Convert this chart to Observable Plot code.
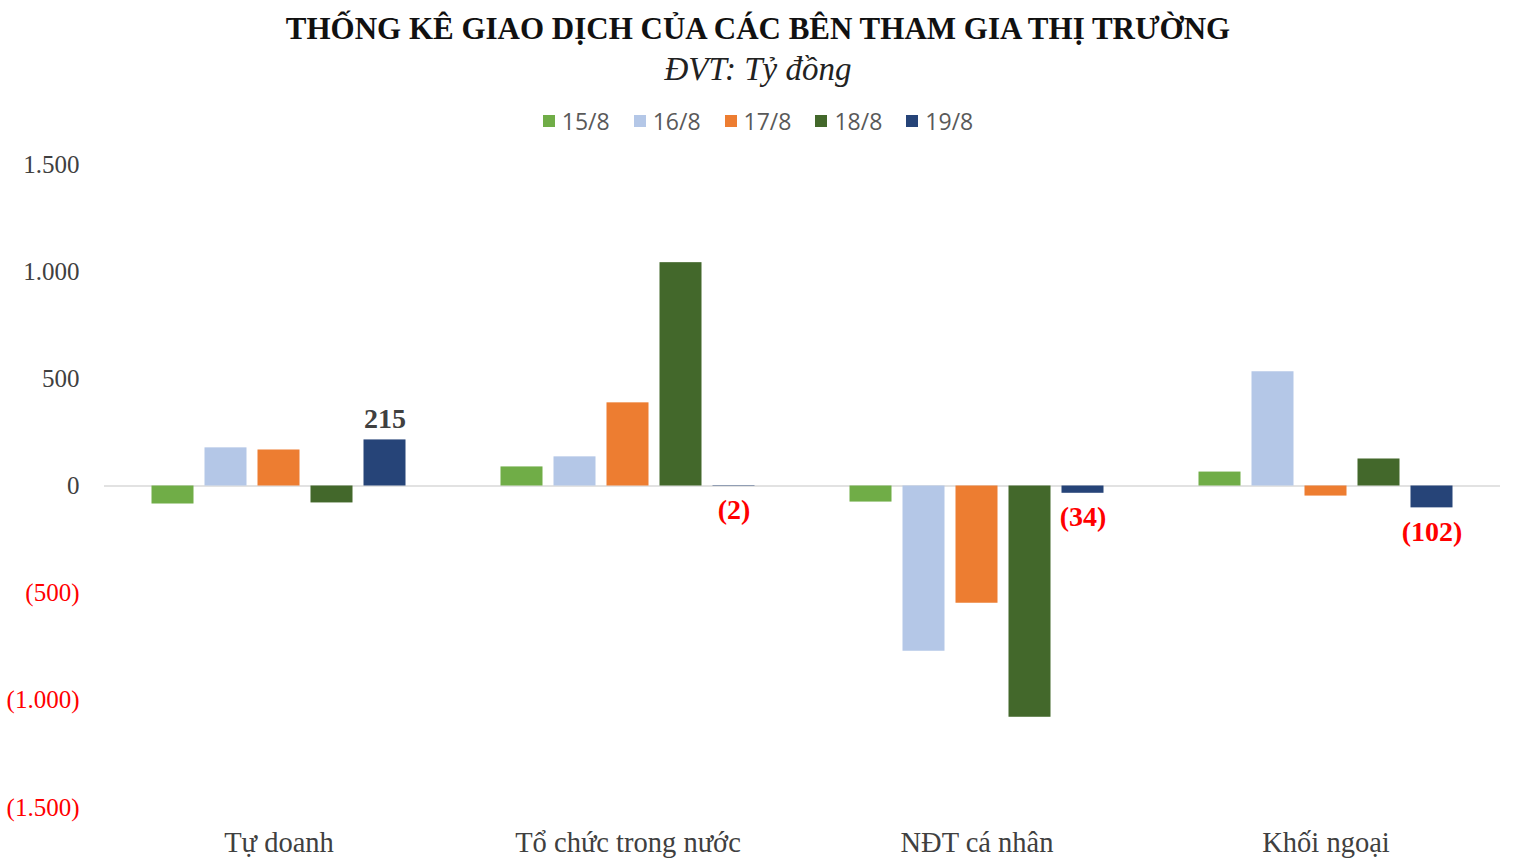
<!DOCTYPE html>
<html>
<head>
<meta charset="utf-8">
<script src="https://cdn.jsdelivr.net/npm/d3@7"></script>
<script src="https://cdn.jsdelivr.net/npm/@observablehq/plot@0.6"></script>
<style>
  html, body { margin: 0; padding: 0; background: #fff; }
  #wrap { width: 1516px; height: 868px; position: relative; overflow: hidden; }
  #title { position: absolute; top: 11px; left: 0; width: 1516px; text-align: center;
    font-family: "Liberation Serif", serif; font-weight: bold; font-size: 31px; color: #111; }
  #subtitle { position: absolute; top: 51px; left: 0; width: 1516px; text-align: center;
    font-family: "Liberation Serif", serif; font-style: italic; font-size: 33px; color: #222; }
  #legend { position: absolute; top: 105px; left: 0; width: 1516px; display: flex; justify-content: center; gap: 24px;
    font-family: "Open Sans", sans-serif; font-size: 23px; color: #595959; }
  #legend span.item { display: inline-flex; align-items: center; }
  #legend span.sw { display: inline-block; width: 12px; height: 12px; margin-right: 7px; }
  #chart { position: absolute; top: 140px; left: 0; }
</style>
</head>
<body>
<div id="wrap">
  <div id="title">THỐNG KÊ GIAO DỊCH CỦA CÁC BÊN THAM GIA THỊ TRƯỜNG</div>
  <div id="subtitle">ĐVT: Tỷ đồng</div>
  <div id="legend"></div>
  <div id="chart"></div>
</div>
<script>
const categories = ["Tự doanh", "Tổ chức trong nước", "NĐT cá nhân", "Khối ngoại"];
const dates = ["15/8", "16/8", "17/8", "18/8", "19/8"];
const colors = ["#70ad47", "#b4c7e7", "#ed7d31", "#43682b", "#264478"];
const v15 = [-84, 89, -75, 65];
const v16 = [178, 136, -771, 533];
const v17 = [168, 388, -547, -47];
const v18 = [-79, 1042, -1079, 126];
const v19 = [215, -2, -34, -102];
const yTicks = [-1500, -1000, -500, 0, 500, 1000, 1500];
const labeledDate = "19/8";

const series = [v15, v16, v17, v18, v19];
const data = [];
categories.forEach((c, i) => dates.forEach((d, j) => data.push({cat: c, date: d, value: series[j][i]})));
const labelData = data.filter(d => d.date === labeledDate);

const fmtNum = v => d3.format(",")(Math.abs(v)).replace(/,/g, ".");
const fmt = v => v < 0 ? "(" + fmtNum(v) + ")" : fmtNum(v);

const leg = document.getElementById("legend");
dates.forEach((d, i) => {
  const it = document.createElement("span");
  it.className = "item";
  it.innerHTML = `<span class="sw" style="background:${colors[i]}"></span>${d}`;
  leg.appendChild(it);
});

const chart = Plot.plot({
  width: 1516,
  height: 728,
  marginTop: 24,
  marginBottom: 61,
  marginLeft: 103.5,
  marginRight: 16.5,
  style: {fontFamily: "Liberation Serif, serif", background: "#fff"},
  fx: {domain: categories, padding: 0, label: null, axis: null},
  x: {domain: dates, paddingInner: 0.212, paddingOuter: 0.88, axis: null},
  y: {domain: [-1500, 1500], axis: null},
  color: {domain: dates, range: colors},
  marks: [
    Plot.ruleY([0], {stroke: "#d9d9d9", strokeWidth: 1.5}),
    Plot.barY(data, {fx: "cat", x: "date", y: "value", fill: "date"}),
    Plot.text(labelData.filter(d => d.value >= 0), {fx: "cat", x: "date", y: "value", text: d => fmt(d.value),
      dy: -21, fill: "#404040", fontWeight: "bold", fontSize: 28}),
    Plot.text(labelData.filter(d => d.value < 0), {fx: "cat", x: "date", y: "value", text: d => fmt(d.value),
      dy: 24, fill: "#ff0000", fontWeight: "bold", fontSize: 28}),
    Plot.axisY({ticks: yTicks, tickSize: 0, tickPadding: 0, anchor: "left", dx: -25, label: null,
      tickFormat: fmt, fontSize: 25, textAnchor: "end",
      fill: d => d < 0 ? "#ff0000" : "#404040"}),
    Plot.axisFx({anchor: "bottom", tickSize: 0, tickPadding: 24, fontSize: 28.5, fill: "#404040", label: null})
  ]
});
document.getElementById("chart").appendChild(chart);
</script>
</body>
</html>
